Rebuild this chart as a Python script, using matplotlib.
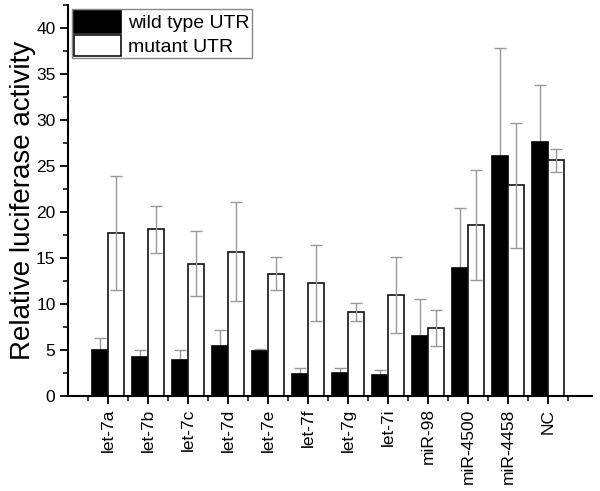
import matplotlib
matplotlib.use("Agg")
import matplotlib.pyplot as plt
import numpy as np
from matplotlib.ticker import MultipleLocator, FixedLocator

plt.rcParams['font.family'] = ['Liberation Sans', 'DejaVu Sans']

categories = ['let-7a', 'let-7b', 'let-7c', 'let-7d', 'let-7e', 'let-7f', 'let-7g',
              'let-7i', 'miR-98', 'miR-4500', 'miR-4458', 'NC']
wild = [5.0, 4.2, 3.9, 5.4, 4.9, 2.4, 2.5, 2.3, 6.5, 13.9, 26.1, 27.6]
wild_err = [1.3, 0.8, 1.1, 1.8, 0.2, 0.6, 0.5, 0.5, 4.0, 6.5, 11.7, 6.2]
mutant = [17.7, 18.1, 14.4, 15.7, 13.3, 12.3, 9.1, 11.0, 7.4, 18.6, 22.9, 25.6]
mutant_err = [6.2, 2.6, 3.5, 5.4, 1.8, 4.1, 1.0, 4.1, 2.0, 6.0, 6.8, 1.2]

fig = plt.figure(figsize=(6.0, 4.91), dpi=100)
ax = fig.add_axes([68/600, 1-396/491, (592-68)/600, (396-5)/491])

x = np.arange(len(categories))
w = 0.4
ecol = '#999999'
ax.errorbar(x - w/2, wild, yerr=wild_err, fmt='none', ecolor=ecol,
            elinewidth=1.0, capsize=4, capthick=1.0, zorder=1)
ax.bar(x - w/2, wild, w, color='black', edgecolor='black', linewidth=1.2, label='wild type UTR', zorder=2)
ax.bar(x + w/2, mutant, w, color='white', edgecolor='#111111', linewidth=1.2, label='mutant UTR', zorder=2)
ax.errorbar(x + w/2, mutant, yerr=mutant_err, fmt='none', ecolor=ecol,
            elinewidth=1.0, capsize=4, capthick=1.0, zorder=3)

ax.set_xlim(-1, 12.1)
ax.set_ylim(0, 42.5)
ax.set_xticks(x)
ax.set_xticklabels(categories, rotation=90, fontsize=12.5)
ax.xaxis.set_minor_locator(FixedLocator(np.arange(-0.5, 12.6, 1.0)))
ax.yaxis.set_major_locator(MultipleLocator(5))
ax.yaxis.set_minor_locator(MultipleLocator(2.5))
ax.tick_params(axis='y', labelsize=12.5, width=1.3, length=6, direction='out', pad=3)
ax.tick_params(axis='y', which='minor', width=1.1, length=3.5)
ax.tick_params(axis='x', width=1.3, length=6, direction='out', pad=3)
ax.tick_params(axis='x', which='minor', width=1.1, length=3.5)
for s in ['top', 'right']:
    ax.spines[s].set_visible(False)
for s in ['left', 'bottom']:
    ax.spines[s].set_linewidth(1.5)
ax.set_ylabel('Relative luciferase activity', fontsize=20, labelpad=0)

leg = ax.legend(loc='upper left', bbox_to_anchor=(72/600, 1-9/491), bbox_transform=fig.transFigure,
                borderaxespad=0, borderpad=0.12, labelspacing=0.12, handletextpad=0.35,
                handlelength=2.4, handleheight=1.3, fontsize=14, fancybox=False,
                edgecolor='#888888', framealpha=1)
leg.get_frame().set_linewidth(1.0)

fig.savefig('out.png', dpi=100)
